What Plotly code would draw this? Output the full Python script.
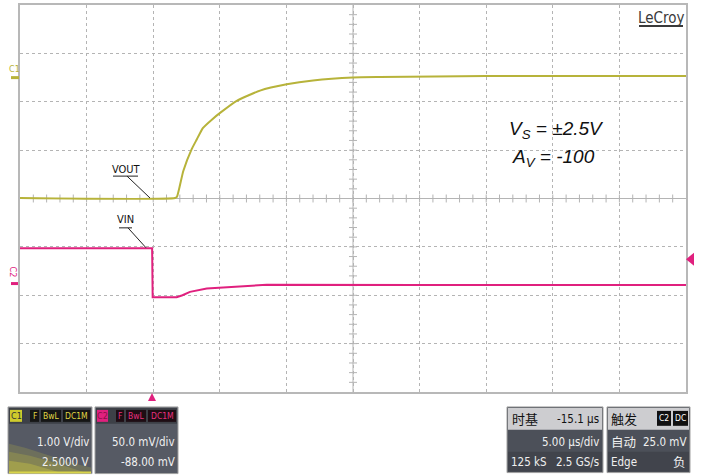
import plotly.graph_objects as go

# ---------------- data (time in µs relative to trigger, amplitude in screen divisions) -------------
c1_time_us = [-10, 1.64, 1.79, 2.26, 2.89, 3.27, 3.74, 4.4, 5.02, 6.27, 8.02, 10.02, 12.0, 15.0, 17.0, 25.0, 40.0]
c1_div =     [0.01, 0.01, 0.04, 0.57, 1.02, 1.22, 1.46, 1.63, 1.77, 2.02, 2.23, 2.36, 2.44, 2.50, 2.51, 2.53, 2.53]

c2_time_us = [-10, -0.08, -0.04, 1.76, 2.2, 2.76, 4.02, 5.52, 7.27, 8.52, 20.0, 40.0]
c2_div =     [-1.03, -1.03, -2.04, -2.04, -2.0, -1.93, -1.86, -1.84, -1.81, -1.785, -1.79, -1.79]

x_range_us = [-10, 40]
y_range_div = [-4, 4]
x_dtick_us = 5
y_dtick_div = 1

c1_header = ["F", "BwL", "DC1M"]
c1_settings = ["1.00 V/div", "2.5000 V"]
c2_header = ["F", "BwL", "DC1M"]
c2_settings = ["50.0 mV/div", "-88.00 mV"]
timebase_labels = ["时基", "-15.1 µs", "5.00 µs/div", "125 kS", "2.5 GS/s"]
trigger_labels = ["触发", "C2", "DC", "自动", "25.0 mV", "Edge", "负"]

# ---------------- geometry helpers -------------
W, H = 701, 476
L, R, T, B = 20, 686, 3, 392


def PX(x):
    return (x - L) / (R - L)


def PY(y):
    return (B - y) / (B - T)


def DX(x):
    return x_range_us[0] + (x - L) / (R - L) * (x_range_us[1] - x_range_us[0])


def DY(y):
    return y_range_div[1] - (y - T) / (B - T) * (y_range_div[1] - y_range_div[0])


YEL = "#b7b33a"
MAG = "#e0207e"
NARROW = "Liberation Sans Narrow, DejaVu Sans Condensed, Roboto, sans-serif"
CJK = "Noto Sans CJK SC, sans-serif"

fig = go.Figure()
fig.add_trace(go.Scatter(x=c1_time_us, y=c1_div, mode="lines",
                         line=dict(color=YEL, width=2, shape="spline", smoothing=0.5),
                         hoverinfo="skip", showlegend=False))
fig.add_trace(go.Scatter(x=c2_time_us, y=c2_div, mode="lines",
                         line=dict(color=MAG, width=2), hoverinfo="skip", showlegend=False))

shapes = []
ann = []


def rect_px(x0, y0, x1, y1, fill, line=None, lw=0, layer="above"):
    shapes.append(dict(type="rect", xref="paper", yref="paper",
                       x0=PX(x0), x1=PX(x1), y0=PY(y1), y1=PY(y0),
                       fillcolor=fill, line=dict(color=line or fill, width=lw), layer=layer))


def line_px(x0, y0, x1, y1, color, w=1):
    shapes.append(dict(type="line", xref="paper", yref="paper",
                       x0=PX(x0), x1=PX(x1), y0=PY(y0), y1=PY(y1),
                       line=dict(color=color, width=w)))


def poly_px(pts, fill, opacity=1.0):
    p = "M " + " L ".join(f"{PX(x):.5f},{PY(y):.5f}" for x, y in pts) + " Z"
    shapes.append(dict(type="path", xref="paper", yref="paper", path=p,
                       fillcolor=fill, opacity=opacity, line=dict(width=0)))


def text_px(x, y, s, size=12, color="#f0f0f0", anchor="center", family=NARROW, angle=0):
    ann.append(dict(x=PX(x), y=PY(y), xref="paper", yref="paper", text=s, showarrow=False,
                    xanchor=anchor, yanchor="middle", textangle=angle,
                    font=dict(size=size, color=color, family=family)))


# centre cross lines with sub-division ticks
GC = "#b4b4b4"
shapes.append(dict(type="line", xref="x", yref="y", x0=x_range_us[0], x1=x_range_us[1], y0=0, y1=0,
                   line=dict(color=GC, width=1), layer="below"))
xc = (x_range_us[0] + x_range_us[1]) / 2
shapes.append(dict(type="line", xref="x", yref="y", x0=xc, x1=xc, y0=y_range_div[0], y1=y_range_div[1],
                   line=dict(color=GC, width=1), layer="below"))
tick_h = 4 * (y_range_div[1] - y_range_div[0]) / (B - T)
tick_w = 4 * (x_range_us[1] - x_range_us[0]) / (R - L)
n_x = int((x_range_us[1] - x_range_us[0]) / x_dtick_us * 5)
for i in range(1, n_x):
    xv = x_range_us[0] + i * x_dtick_us / 5
    shapes.append(dict(type="line", xref="x", yref="y", x0=xv, x1=xv, y0=-tick_h, y1=tick_h,
                       line=dict(color=GC, width=1), layer="below"))
n_y = int((y_range_div[1] - y_range_div[0]) / y_dtick_div * 5)
for i in range(1, n_y):
    yv = y_range_div[0] + i * y_dtick_div / 5
    shapes.append(dict(type="line", xref="x", yref="y", x0=xc - tick_w, x1=xc + tick_w, y0=yv, y1=yv,
                       line=dict(color=GC, width=1), layer="below"))

# VOUT / VIN callouts
for (lx0, lx1, ly, dx0, dy0, dx1, dy1) in [(113, 138, 175, 127, 175, 150, 197),
                                           (119, 132, 227, 128, 227, 146, 247)]:
    shapes.append(dict(type="line", xref="x", yref="y", x0=DX(lx0), x1=DX(lx1), y0=DY(ly), y1=DY(ly),
                       line=dict(color="#222", width=1)))
    shapes.append(dict(type="line", xref="x", yref="y", x0=DX(dx0), x1=DX(dx1), y0=DY(dy0), y1=DY(dy1),
                       line=dict(color="#222", width=1)))
ann.append(dict(x=DX(126), y=DY(168), xref="x", yref="y", text="VOUT", showarrow=False,
                font=dict(size=11, color="#111", family=NARROW)))
ann.append(dict(x=DX(125), y=DY(219), xref="x", yref="y", text="VIN", showarrow=False,
                font=dict(size=11, color="#111", family=NARROW)))

# formula text
ann.append(dict(x=DX(507), y=DY(129), xref="x", yref="y", xanchor="left",
                text="<i>V<sub>S</sub> = ±2.5V</i>", showarrow=False,
                font=dict(size=19, color="#111", family="Liberation Sans, Arial, sans-serif")))
ann.append(dict(x=DX(510), y=DY(157), xref="x", yref="y", xanchor="left",
                text="<i>A<sub>V</sub> = -100</i>", showarrow=False,
                font=dict(size=19, color="#111", family="Liberation Sans, Arial, sans-serif")))

# LeCroy logo
text_px(661, 16, "LeCroy", size=15, color="#3a3a3a")
line_px(639, 24, 683, 24, "#3a3a3a", 2)

# channel markers
text_px(14, 67, "C1", size=9, color=YEL)
line_px(11, 76, 19, 76, YEL, 3)
text_px(13, 271, "C2", size=9, color=MAG, angle=90)
line_px(11, 283, 18, 283, MAG, 3)
poly_px([(148, 401), (156, 401), (152, 393)], MAG)
poly_px([(694, 252), (694, 265), (686, 258.5)], MAG)

# ---------------- status boxes -------------
VS = 11.5
# C1 box
rect_px(8, 407, 92, 474, "#565a64", "#a0a0a0", 1)
poly_px([(9, 473), (9, 444), (25, 448), (50, 456), (75, 464), (91, 468), (91, 473)], "#d6d23a", 0.18)
poly_px([(9, 473), (9, 452), (30, 456), (55, 463), (85, 473)], "#d6d23a", 0.22)
poly_px([(9, 473), (9, 461), (30, 464), (60, 473)], "#e0dc40", 0.3)
line_px(9, 473, 91, 473, "#d8d44a", 2)
rect_px(9, 408, 91, 424, "#3d4047")
rect_px(10, 410, 22, 422, "#cfcb2c")
text_px(16, 416, "C1", 9, "#333")
for (x0, x1), s in zip([(30, 39), (41, 61), (63, 90)], c1_header):
    rect_px(x0, 410, x1, 422, "#151515")
    text_px((x0 + x1) / 2, 416, s, 8.5, "#e0d845")
text_px(91, 442, c1_settings[0], VS, anchor="right")
text_px(91, 462, c1_settings[1], VS, anchor="right")

# C2 box
rect_px(95, 407, 178, 474, "#565a64", "#a0a0a0", 1)
rect_px(96, 408, 177, 424, "#3d4047")
rect_px(97, 410, 108, 422, MAG)
text_px(102.5, 416, "C2", 9, "#8a1048")
for (x0, x1), s in zip([(116, 124), (126, 146), (148, 176)], c2_header):
    rect_px(x0, 410, x1, 422, "#1e0d14")
    text_px((x0 + x1) / 2, 416, s, 8.5, "#e8307f")
text_px(177, 442, c2_settings[0], VS, anchor="right")
text_px(177, 462, c2_settings[1], VS, anchor="right")

# timebase box
rect_px(507, 407, 603, 473, "#4c5059", "#a0a0a0", 1)
rect_px(508, 408, 602, 430, "#cdcdd0")
rect_px(508, 452, 602, 472, "#41444c")
text_px(510, 419, timebase_labels[0], 13, "#111", "left", CJK)
text_px(601, 419, timebase_labels[1], VS, "#111", "right")
text_px(601, 442, timebase_labels[2], VS, anchor="right")
text_px(509, 462, timebase_labels[3], VS, anchor="left")
text_px(601, 462, timebase_labels[4], VS, anchor="right")

# trigger box
rect_px(607, 407, 690, 473, "#4c5059", "#a0a0a0", 1)
rect_px(608, 408, 689, 430, "#cdcdd0")
rect_px(608, 452, 689, 472, "#41444c")
text_px(609, 419, trigger_labels[0], 13, "#111", "left", CJK)
rect_px(657, 411, 671, 426, "#111")
text_px(664, 418.5, trigger_labels[1], 8.5, "#fff")
rect_px(673, 411, 688, 426, "#111")
text_px(680.5, 418.5, trigger_labels[2], 8.5, "#fff")
text_px(609, 442, trigger_labels[3], 12.5, anchor="left", family=CJK)
text_px(688, 442, trigger_labels[4], VS, anchor="right")
text_px(609, 462, trigger_labels[5], VS, anchor="left")
text_px(688, 462, trigger_labels[6], 12.5, anchor="right", family=CJK)

fig.update_layout(
    width=W, height=H,
    margin=dict(l=L, r=W - R, t=T, b=H - B, pad=0),
    paper_bgcolor="white", plot_bgcolor="white",
    shapes=shapes, annotations=ann, showlegend=False,
    xaxis=dict(range=x_range_us, tick0=x_range_us[0], dtick=x_dtick_us, showticklabels=False,
               ticks="", showgrid=True, gridcolor=GC, griddash="dot", gridwidth=1,
               zeroline=False, showline=True, mirror=True, linecolor="#b8b8b8", linewidth=2,
               fixedrange=True),
    yaxis=dict(range=y_range_div, tick0=y_range_div[0], dtick=y_dtick_div, showticklabels=False,
               ticks="", showgrid=True, gridcolor=GC, griddash="dot", gridwidth=1,
               zeroline=False, showline=True, mirror=True, linecolor="#b8b8b8", linewidth=2,
               fixedrange=True),
)

fig.write_html("out.html", config={"displayModeBar": False},
               post_script="document.body.style.margin='0';document.body.style.overflow='hidden';")
